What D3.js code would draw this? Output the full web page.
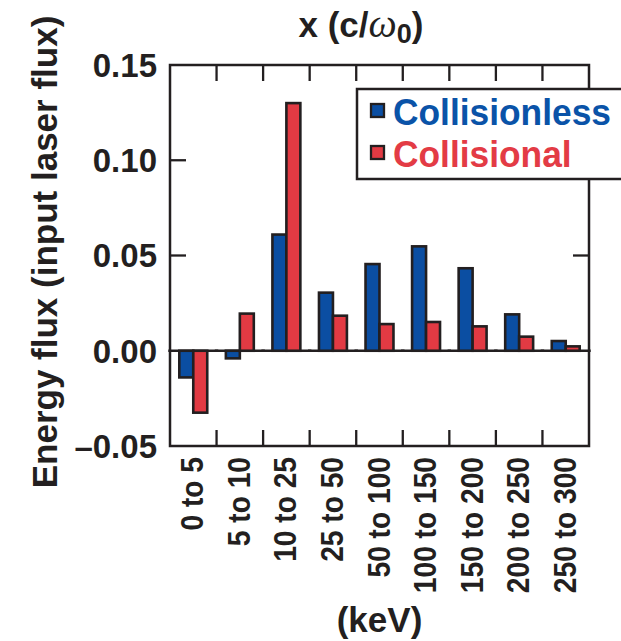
<!DOCTYPE html>
<html>
<head>
<meta charset="utf-8">
<script src="https://cdn.jsdelivr.net/npm/d3@7"></script>
<style>
  html, body { margin: 0; padding: 0; background: #fff; }
  svg { display: block; }
  text { font-family: "Liberation Sans", Arial, Helvetica, sans-serif; font-weight: bold; fill: #231f20; }
</style>
</head>
<body>
<svg id="chart" width="621" height="641"></svg>
<script>
// Energy bins (keV)
const categories = ["0 to 5", "5 to 10", "10 to 25", "25 to 50", "50 to 100",
                    "100 to 150", "150 to 200", "200 to 250", "250 to 300"];
// Energy flux normalised to the input laser flux
const collisionless = [-0.014, -0.004, 0.061, 0.0305, 0.0455, 0.0548, 0.0433, 0.0191, 0.0051];
const collisional   = [-0.0325, 0.0195, 0.130, 0.0184, 0.014, 0.0151, 0.0128, 0.0074, 0.0023];
const seriesNames = ["Collisionless", "Collisional"];
const yTicks = [-0.05, 0.00, 0.05, 0.10, 0.15];
const yTickLabels = ["\u20130.05", "0.00", "0.05", "0.10", "0.15"];

const ink = "#231f20";
const colors = { Collisionless: "#0b4ea2", Collisional: "#e23a43" };
const textColors = { Collisionless: "#0a53a8", Collisional: "#e33b45" };

const svg = d3.select("#chart");
const plot = { left: 170, right: 589, top: 65, bottom: 446 };

const y = d3.scaleLinear().domain([-0.05, 0.15]).range([plot.bottom, plot.top]);
const xCells = d3.scaleBand().domain(categories).range([plot.left, plot.right]);
const x = d3.scaleBand().domain(categories).range([plot.left, plot.right])
  .paddingInner(0.4).paddingOuter(0.2);
const xs = d3.scaleBand().domain(seriesNames).range([0, x.bandwidth()]);

// squeeze a text horizontally to a fraction of its natural advance
function squeeze(sel, k) {
  sel.each(function () {
    const L = this.getComputedTextLength();
    d3.select(this).attr("textLength", L * k).attr("lengthAdjust", "spacingAndGlyphs");
  });
}

// zero baselines under each bar pair
const rows = categories.map((c, i) => ({ cat: c, Collisionless: collisionless[i], Collisional: collisional[i] }));
svg.append("g").selectAll("line").data(rows).join("line")
  .attr("x1", d => x(d.cat) + x.bandwidth() / 2 - 25)
  .attr("x2", d => x(d.cat) + x.bandwidth() / 2 + 25)
  .attr("y1", y(0)).attr("y2", y(0))
  .attr("stroke", ink).attr("stroke-width", 2.5);

// bars
const groups = svg.append("g").selectAll("g").data(rows).join("g")
  .attr("transform", d => `translate(${x(d.cat)},0)`);
groups.selectAll("rect")
  .data(d => seriesNames.map(s => ({ s, v: d[s] })))
  .join("rect")
  .attr("x", d => xs(d.s))
  .attr("width", xs.bandwidth())
  .attr("y", d => y(Math.max(0, d.v)))
  .attr("height", d => Math.abs(y(d.v) - y(0)))
  .attr("fill", d => colors[d.s])
  .attr("stroke", ink).attr("stroke-width", 2.6);

// inward ticks
const tickLen = 16;
const inner = categories.slice(1);
const tk = svg.append("g").attr("stroke", ink).attr("stroke-width", 2.3);
tk.selectAll(".tt").data(inner).join("line")
  .attr("x1", d => xCells(d)).attr("x2", d => xCells(d))
  .attr("y1", plot.top).attr("y2", plot.top + tickLen);
tk.selectAll(".tb").data(inner).join("line")
  .attr("x1", d => xCells(d)).attr("x2", d => xCells(d))
  .attr("y1", plot.bottom).attr("y2", plot.bottom - tickLen);
const midTicks = [0.05, 0.10];
tk.selectAll(".tl").data(midTicks).join("line")
  .attr("x1", plot.left).attr("x2", plot.left + tickLen)
  .attr("y1", d => y(d)).attr("y2", d => y(d));
tk.selectAll(".tr").data(midTicks).join("line")
  .attr("x1", plot.right).attr("x2", plot.right - tickLen)
  .attr("y1", d => y(d)).attr("y2", d => y(d));

// frame
svg.append("rect")
  .attr("x", plot.left).attr("y", plot.top)
  .attr("width", plot.right - plot.left).attr("height", plot.bottom - plot.top)
  .attr("fill", "none").attr("stroke", ink).attr("stroke-width", 2.5);

// y tick labels
svg.append("g").selectAll("text").data(yTicks).join("text")
  .attr("x", 157).attr("y", d => y(d)).attr("dy", "0.36em")
  .attr("text-anchor", "end").attr("font-size", 33)
  .text((d, i) => yTickLabels[i]);

// x tick labels (rotated)
const xl = svg.append("g").selectAll("text").data(categories).join("text")
  .attr("transform", d => `translate(${x(d) + x.bandwidth() / 2 + 10},457) rotate(-90)`)
  .attr("text-anchor", "end").attr("font-size", 32)
  .text(d => d);
squeeze(xl, 0.88);

// y axis title
svg.append("text")
  .attr("transform", "translate(57,252) rotate(-90)")
  .attr("text-anchor", "middle").attr("font-size", 35)
  .text("Energy flux (input laser flux)");

// x axis title
svg.append("text")
  .attr("x", (plot.left + plot.right) / 2).attr("y", 632)
  .attr("text-anchor", "middle").attr("font-size", 35)
  .text("(keV)");

// top title
const tt = svg.append("text")
  .attr("x", 361).attr("y", 37)
  .attr("text-anchor", "middle").attr("font-size", 35);
tt.append("tspan").text("x (c/");
tt.append("tspan").attr("font-family", "'Liberation Serif', 'Times New Roman', serif")
  .attr("font-style", "italic").attr("font-weight", "normal").attr("font-size", 40).text("\u03c9");
tt.append("tspan").attr("font-size", 27).attr("dy", 6).text("0");
tt.append("tspan").attr("dy", -6).text(")");

// legend
const lg = svg.append("g");
lg.append("rect")
  .attr("x", 357).attr("y", 89).attr("width", 300).attr("height", 90)
  .attr("fill", "#fff").attr("stroke", ink).attr("stroke-width", 2.5);
const items = lg.selectAll("g.item").data(seriesNames).join("g")
  .attr("transform", (d, i) => `translate(0,${i * 42})`);
items.append("rect")
  .attr("x", 371).attr("y", 104).attr("width", 13).attr("height", 13)
  .attr("fill", d => colors[d]).attr("stroke", ink).attr("stroke-width", 2.3);
const lt = items.append("text")
  .attr("x", 393).attr("y", 124.5).attr("font-size", 37)
  .style("fill", d => textColors[d])
  .text(d => d);
squeeze(lt, 0.955);
</script>
</body>
</html>
